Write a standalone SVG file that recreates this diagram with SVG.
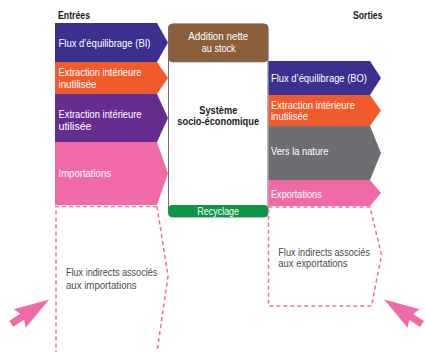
<svg xmlns="http://www.w3.org/2000/svg" width="425" height="352" viewBox="0 0 425 352">
  <style>
    .lbl { font-family: "Liberation Sans Narrow", "Liberation Sans", Arial, sans-serif; font-size: 11px; fill: #ffffff; }
    .dark { fill: #4a4a4a; }
    .head { font-family: "Liberation Sans Narrow", "Liberation Sans", Arial, sans-serif; font-size: 11px; font-weight: bold; fill: #1a1a1a; }
    .ctr { text-anchor: middle; }
    .dash { fill: none; stroke: #f06aa8; stroke-width: 1.5; stroke-dasharray: 4 3; }
    .pointer { fill: #f06aa8; }
  </style>
  <defs>
    <polygon id="pointer-shape" points="0,-3.5 13,-3.5 10,-11 45,0 10,11 13,3.5 0,3.5"/>
  </defs>

  <!-- column headings -->
  <text class="head" x="58" y="18.5" textLength="32" lengthAdjust="spacingAndGlyphs">Entrées</text>
  <text class="head" x="353" y="18.5" textLength="29.5" lengthAdjust="spacingAndGlyphs">Sorties</text>

  <!-- inputs -->
  <g id="in-balancing">
    <polygon points="55,23 157,23 168,42.5 157,62 55,62" fill="#3b2f8f"/>
    <text class="lbl" x="58.5" y="46.5" textLength="92" lengthAdjust="spacingAndGlyphs">Flux d’équilibrage (BI)</text>
  </g>
  <g id="in-unused">
    <polygon points="55,62 157,62 168,78 157,94 55,94" fill="#f15a2b"/>
    <text class="lbl" x="58.5" y="76" textLength="83" lengthAdjust="spacingAndGlyphs">Extraction intérieure</text>
    <text class="lbl" x="58.5" y="87.5" textLength="38" lengthAdjust="spacingAndGlyphs">inutilisée</text>
  </g>
  <g id="in-used">
    <polygon points="55,94 157,94 168,118 157,142 55,142" fill="#662d91"/>
    <text class="lbl" x="58.5" y="118" textLength="83" lengthAdjust="spacingAndGlyphs">Extraction intérieure</text>
    <text class="lbl" x="58.5" y="129.5" textLength="33" lengthAdjust="spacingAndGlyphs">utilisée</text>
  </g>
  <g id="in-imports">
    <polygon points="55,142 157,142 168,173.5 157,205 55,205" fill="#f06aa8"/>
    <text class="lbl" x="58.5" y="176.5" textLength="52.5" lengthAdjust="spacingAndGlyphs">Importations</text>
  </g>
  <g id="in-indirect">
    <polyline class="dash" points="157,206.5 56,206.5 56,352"/>
    <polyline class="dash" points="157,206.5 168,276 157,352"/>
    <text class="lbl dark" x="66" y="276" textLength="91.3" lengthAdjust="spacingAndGlyphs">Flux indirects associés</text>
    <text class="lbl dark" x="66" y="288.5" textLength="70.7" lengthAdjust="spacingAndGlyphs">aux importations</text>
  </g>

  <!-- central system -->
  <g id="system">
    <rect x="168.5" y="24" width="99.5" height="193" rx="4" fill="#ffffff" stroke="#6e6e6e" stroke-width="1"/>
    <rect x="168.5" y="24" width="99.5" height="38" rx="4" fill="#8b5e3c" stroke="#6e6e6e" stroke-width="0.6"/>
    <rect x="168.5" y="205" width="99.5" height="12" rx="4" fill="#0e9647"/>
    <text class="lbl ctr" x="218.3" y="40" textLength="60" lengthAdjust="spacingAndGlyphs">Addition nette</text>
    <text class="lbl ctr" x="218.7" y="51.7" textLength="34" lengthAdjust="spacingAndGlyphs">au stock</text>
    <text class="head ctr" x="218.3" y="113.5" textLength="38" lengthAdjust="spacingAndGlyphs">Système</text>
    <text class="head ctr" x="218.2" y="125" textLength="81.7" lengthAdjust="spacingAndGlyphs">socio-économique</text>
    <text class="lbl ctr" x="218.2" y="215" textLength="41.7" lengthAdjust="spacingAndGlyphs">Recyclage</text>
  </g>

  <!-- outputs -->
  <g id="out-balancing">
    <polygon points="268.5,61 370,61 381,78 370,95 268.5,95" fill="#3b2f8f"/>
    <text class="lbl" x="271" y="81.7" textLength="96" lengthAdjust="spacingAndGlyphs">Flux d’équilibrage (BO)</text>
  </g>
  <g id="out-unused">
    <polygon points="268.5,95 370,95 381,110.5 370,126 268.5,126" fill="#f15a2b"/>
    <text class="lbl" x="271" y="108.5" textLength="84" lengthAdjust="spacingAndGlyphs">Extraction intérieure</text>
    <text class="lbl" x="271" y="120" textLength="37" lengthAdjust="spacingAndGlyphs">inutilisée</text>
  </g>
  <g id="out-nature">
    <polygon points="268.5,126 370,126 381,153 370,180 268.5,180" fill="#6d6e71"/>
    <text class="lbl" x="271" y="155" textLength="57.3" lengthAdjust="spacingAndGlyphs">Vers la nature</text>
  </g>
  <g id="out-exports">
    <polygon points="268.5,180 370,180 381,193 370,206 268.5,206" fill="#f06aa8"/>
    <text class="lbl" x="271" y="197.5" textLength="50.7" lengthAdjust="spacingAndGlyphs">Exportations</text>
  </g>
  <g id="out-indirect">
    <polygon class="dash" points="268.5,207 370,207 381.5,255 371.5,306 268.5,306"/>
    <text class="lbl dark" x="278.3" y="255.7" textLength="91.7" lengthAdjust="spacingAndGlyphs">Flux indirects associés</text>
    <text class="lbl dark" x="278.3" y="267" textLength="69.3" lengthAdjust="spacingAndGlyphs">aux exportations</text>
  </g>

  <!-- pointers toward the indirect flows -->
  <g id="connectors">
    <use href="#pointer-shape" class="pointer" transform="translate(11.3,323.8) rotate(-32.8)"/>
    <use href="#pointer-shape" class="pointer" transform="translate(422,324) rotate(212.8)"/>
  </g>
</svg>
